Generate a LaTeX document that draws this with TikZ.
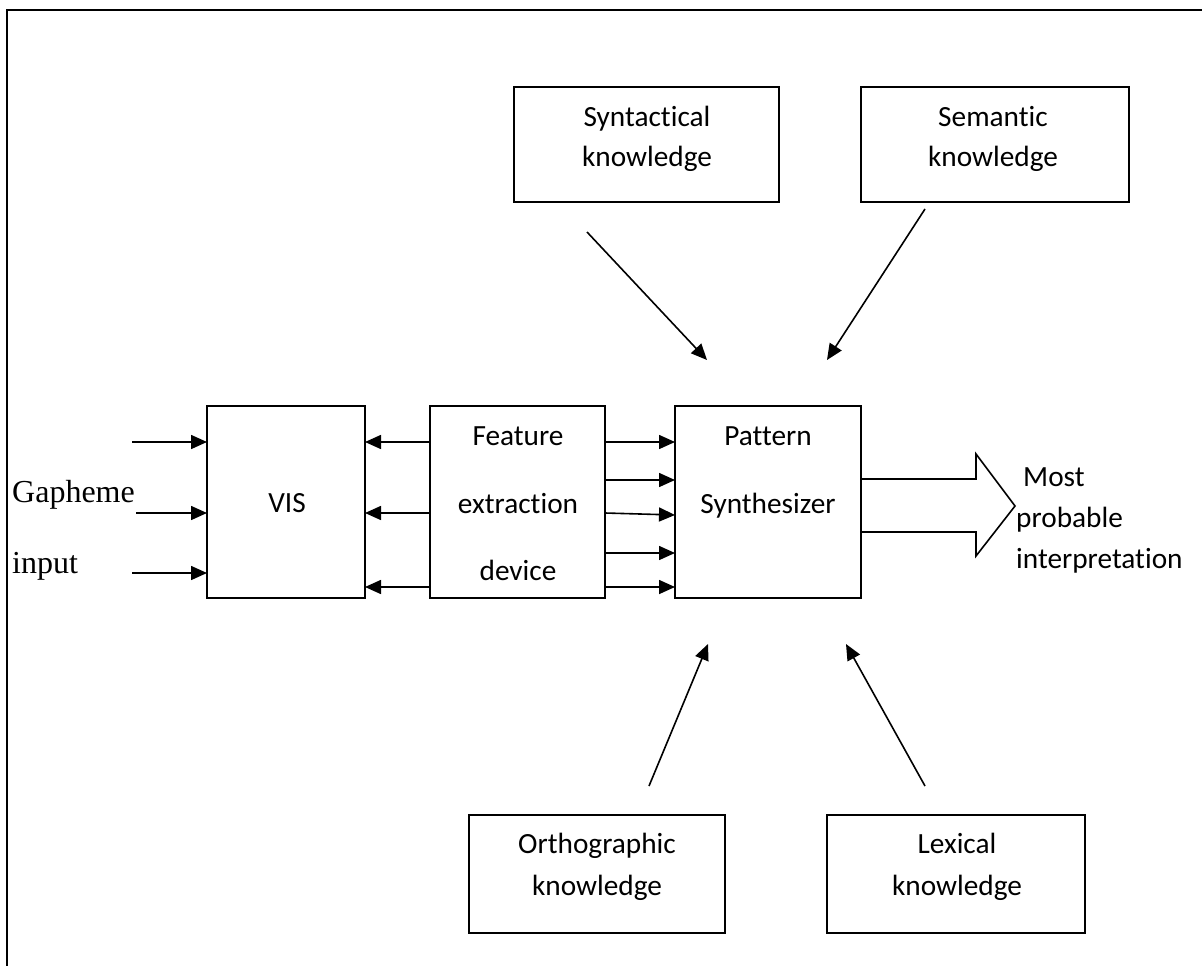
\documentclass[tikz,border=0pt]{standalone}
\usepackage{fontspec}
\setmainfont{Carlito}[Ligatures={NoCommon}]
\newfontfamily\tnr{Liberation Serif}
\usetikzlibrary{arrows.meta}
\newcommand{\tnoi}{t\kern0pt i}
\begin{document}
\begin{tikzpicture}[x=1pt,y=-1pt,
  box/.style={draw, line width=1.8pt, inner sep=0pt, outer sep=0pt},
  txt/.style={anchor=base, inner sep=0pt, font=\fontsize{29.3}{40}\selectfont},
  ltxt/.style={anchor=base west, inner sep=0pt, font=\fontsize{29.3}{40}\selectfont},
  stxt/.style={anchor=base west, inner sep=0pt, font=\tnr\fontsize{32}{38}\selectfont},
  arr/.style={line width=1.6pt, -{Triangle[length=16pt,width=14pt]}},
  frame/.style={line width=2.4pt}]
\useasboundingbox (0,0) rectangle (1202,966);
\fill[white] (0,0) rectangle (1202,966);
% frame
\coordinate (fbl) at (7,966);
\coordinate (ftl) at (7,10);
\coordinate (ftr) at (1202,10);
\draw[frame] (fbl) -- (ftl) -- (ftr);
% boxes
\node[box, minimum width=158pt, minimum height=192pt] (vis) at (286,502) {};
\node[box, minimum width=175pt, minimum height=192pt] (fed) at (517.5,502) {};
\node[box, minimum width=186pt, minimum height=192pt] (pat) at (768,502) {};
\node[box, minimum width=265pt, minimum height=115pt] (syn) at (646.5,144.5) {};
\node[box, minimum width=268pt, minimum height=115pt] (sem) at (995,144.5) {};
\node[box, minimum width=256pt, minimum height=118pt] (ort) at (597,874) {};
\node[box, minimum width=258pt, minimum height=118pt] (lex) at (956,874) {};
% texts
\node[txt] (tvis) at (287,512) {VIS};
\node[txt] (tfe1) at (518,445) {Feature};
\node[txt] (tfe2) at (518,513) {extraction};
\node[txt] (tfe3) at (518,580) {device};
\node[txt] (tpa1) at (768,445) {Pattern};
\node[txt] (tpa2) at (768,513) {Synthesizer};
\node[txt] (tsy1) at (647,126) {Syntac\tnoi cal};
\node[txt] (tsy2) at (647,166) {knowledge};
\node[txt] (tse1) at (993,126) {Seman\tnoi c};
\node[txt] (tse2) at (993,166) {knowledge};
\node[txt] (tor1) at (597,853) {Orthographic};
\node[txt] (tor2) at (597,895) {knowledge};
\node[txt] (tle1) at (957,853) {Lexical};
\node[txt] (tle2) at (957,895) {knowledge};
\node[ltxt] (tmo1) at (1023,486) {Most};
\node[ltxt] (tmo2) at (1016,527) {probable};
\node[ltxt] (tmo3) at (1016,568) {interpreta\tnoi on};
\node[stxt] (tgr1) at (12,502) {Gapheme};
\node[stxt] (tgr2) at (12,573) {input};
% input arrows
\coordinate (in1) at (132,442);
\coordinate (in2) at (136,513);
\coordinate (in3) at (132,573);
\draw[arr] (in1) -- (in1 -| vis.west);
\draw[arr] (in2) -- (in2 -| vis.west);
\draw[arr] (in3) -- (in3 -| vis.west);
% back arrows
\draw[arr] ([yshift=60pt]fed.west) -- ([yshift=60pt]vis.east);
\draw[arr] ([yshift=-11pt]fed.west) -- ([yshift=-11pt]vis.east);
\draw[arr] ([yshift=-85pt]fed.west) -- ([yshift=-85pt]vis.east);
% forward arrows
\draw[arr] ([yshift=60pt]fed.east) -- ([yshift=60pt]pat.west);
\draw[arr] ([yshift=22pt]fed.east) -- ([yshift=22pt]pat.west);
\draw[arr] ([yshift=-11pt]fed.east) -- ([yshift=-13pt]pat.west);
\draw[arr] ([yshift=-51pt]fed.east) -- ([yshift=-51pt]pat.west);
\draw[arr] ([yshift=-85pt]fed.east) -- ([yshift=-85pt]pat.west);
% knowledge arrows
\coordinate (s1) at (587,232);
\coordinate (e1) at (707,360);
\coordinate (s2) at (925,209);
\coordinate (e2) at (827,360);
\coordinate (s3) at (649,786);
\coordinate (e3) at (708,644);
\coordinate (s4) at (925,786);
\coordinate (e4) at (846,644);
\draw[arr] (s1) -- (e1);
\draw[arr] (s2) -- (e2);
\draw[arr] (s3) -- (e3);
\draw[arr] (s4) -- (e4);
% big output arrow
\coordinate (b1) at (976,479);
\coordinate (b2) at (976,454);
\coordinate (b3) at (1015,506);
\coordinate (b4) at (976,556);
\coordinate (b5) at (976,532);
\draw[line width=1.6pt, line join=miter] ([yshift=23pt]pat.east) -- (b1) -- (b2) -- (b3) -- (b4) -- (b5) -- ([yshift=-30pt]pat.east);
\end{tikzpicture}
\end{document}
